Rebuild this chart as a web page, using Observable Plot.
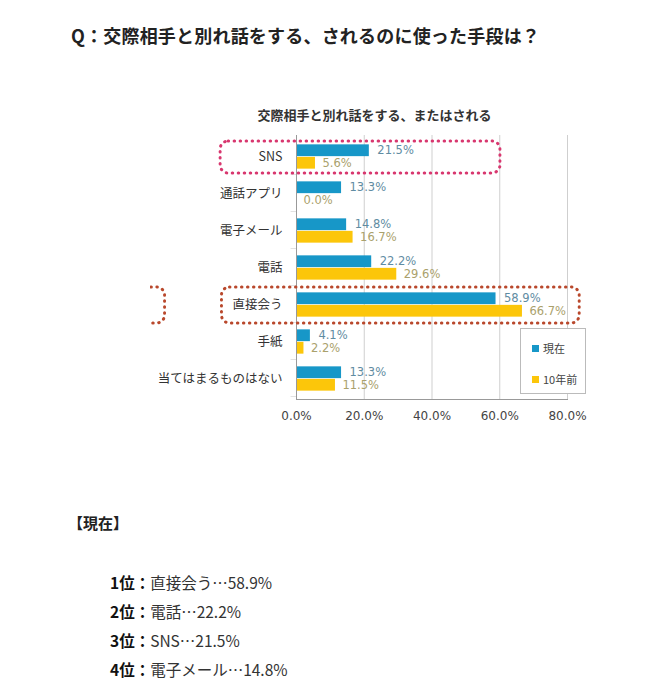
<!DOCTYPE html>
<html lang="ja"><head><meta charset="utf-8">
<script src="https://cdn.jsdelivr.net/npm/d3@7"></script>
<script src="https://cdn.jsdelivr.net/npm/@observablehq/plot@0.6"></script>
<style>
body{margin:0;background:#fff;font-family:"Noto Sans CJK JP","Noto Sans",sans-serif;color:#222;}
#page{position:relative;width:672px;height:691px;overflow:hidden;}
#title{position:absolute;left:71px;top:22px;font-size:18px;font-weight:bold;letter-spacing:0.2px;white-space:nowrap;}
#chart{position:absolute;left:150px;top:90px;}
#legend{position:absolute;left:520px;top:328px;width:64px;height:64px;border:1px solid #bbb;background:#fff;font-size:11px;color:#444;}
#legend .it{position:absolute;left:11px;display:flex;align-items:center;white-space:nowrap;}
#legend .sw{width:7px;height:7px;margin-right:4px;}
#sub{position:absolute;left:68px;top:512px;font-size:15px;font-weight:bold;}
#rank{position:absolute;left:110px;top:568px;font-size:15.5px;color:#333;}
#rank div{height:29px;line-height:29px;white-space:nowrap;}
#rank b{color:#111;}
</style></head>
<body><div id="page">
<div id="title"></div>
<div id="chart"></div>
<div id="legend"></div>
<div id="sub">【現在】</div>
<div id="rank"></div>
</div>
<script>
const pageTitle = "Q：交際相手と別れ話をする、されるのに使った手段は？";
const chartTitle = "交際相手と別れ話をする、またはされる";
const categories = ["SNS", "通話アプリ", "電子メール", "電話", "直接会う", "手紙", "当てはまるものはない"];
const current = [21.5, 13.3, 14.8, 22.2, 58.9, 4.1, 13.3];
const tenYearsAgo = [5.6, 0.0, 16.7, 29.6, 66.7, 2.2, 11.5];
const seriesNames = ["現在", "10年前"];
const xTicks = [0, 20, 40, 60, 80];

const BLUE = "#1797c8", YELLOW = "#fcc60a";
const rows = categories.map((c, i) => ({cat: c, cur: current[i], old: tenYearsAgo[i]}));

const H = 340, MT = 45, MB = 31;
const bw = (H - MT - MB) / categories.length;
const half = bw / 2;
const barH = 12.5;

document.getElementById("title").textContent = pageTitle;

const num = "DejaVu Sans, Verdana, sans-serif";
const chart = Plot.plot({
  width: 440, height: H,
  marginLeft: 146, marginRight: 23, marginTop: MT, marginBottom: MB,
  x: {domain: [0, 80]},
  y: {domain: categories, padding: 0},
  style: {fontFamily: "Noto Sans CJK JP, sans-serif", background: "transparent", color: "#333"},
  marks: [
    Plot.gridX(xTicks.filter(d => d > 0), {stroke: "#cfcfcf", strokeOpacity: 1}),
    Plot.barX(rows, {y: "cat", x: "cur", fill: BLUE, insetTop: half - barH, insetBottom: half}),
    Plot.barX(rows, {y: "cat", x: "old", fill: YELLOW, insetTop: half, insetBottom: half - barH}),
    Plot.text(rows, {y: "cat", x: "cur", text: d => d.cur.toFixed(1) + "%", textAnchor: "start", dx: 8, dy: -6.5, fill: "#5f8ca2", fontSize: 11.5, fontFamily: num}),
    Plot.text(rows, {y: "cat", x: "old", text: d => d.old.toFixed(1) + "%", textAnchor: "start", dx: 7, dy: 6, fill: "#aaa16c", fontSize: 11.5, fontFamily: num}),
    Plot.barX(categories, {y: d => d, x1: -1.6, x2: 0, fill: "#999", insetTop: bw - 1}),
    Plot.ruleX([0], {stroke: "#999"}),
    Plot.frame({anchor: "bottom", stroke: "#999"}),
    Plot.axisX({ticks: xTicks, tickFormat: d => d.toFixed(1) + "%", tickSize: 0, tickPadding: 12, fontSize: 12, fontFamily: num, fill: "#444", label: null}),
    Plot.axisY({tickSize: 0, tickPadding: 14, fontSize: 12.5, fill: "#333", label: null}),
    Plot.barX(["SNS"], {y: d => d, x1: -22.4, x2: 60.2, fill: "none", stroke: "#d8376f", strokeWidth: 3, strokeDasharray: "0.5 5.5", strokeLinecap: "round", rx: 8, insetTop: 3, insetBottom: 2}),
    Plot.barX(["直接会う"], {y: d => d, x1: -22, x2: 83.6, fill: "none", stroke: "#b9482c", strokeWidth: 3, strokeDasharray: "0.5 5.5", strokeLinecap: "round", rx: 8, insetTop: 1, insetBottom: 0}),
    Plot.barX(["直接会う"], {y: d => d, x1: -70, x2: -38.8, fill: "none", stroke: "#b9482c", strokeWidth: 3, strokeDasharray: "0.5 5.5", strokeLinecap: "round", rx: 8, insetTop: 1, insetBottom: 0}),
    Plot.text([chartTitle], {frameAnchor: "top-left", textAnchor: "middle", dx: 78, dy: -25, fontWeight: "bold", fontSize: 13, fill: "#333"})
  ]
});
document.getElementById("chart").appendChild(chart);

const legend = document.getElementById("legend");
[[seriesNames[0], BLUE, 11], [seriesNames[1], YELLOW, 42]].forEach(([name, col, top]) => {
  const it = document.createElement("div");
  it.className = "it"; it.style.top = top + "px";
  it.innerHTML = `<span class="sw" style="background:${col}"></span><span>${name}</span>`;
  legend.appendChild(it);
});

const ranked = rows.slice().sort((a, b) => b.cur - a.cur).slice(0, 4);
document.getElementById("rank").innerHTML = ranked.map((r, i) =>
  `<div><b>${i + 1}位：</b>${r.cat}…${r.cur.toFixed(1)}%</div>`).join("");
</script>
</body></html>
